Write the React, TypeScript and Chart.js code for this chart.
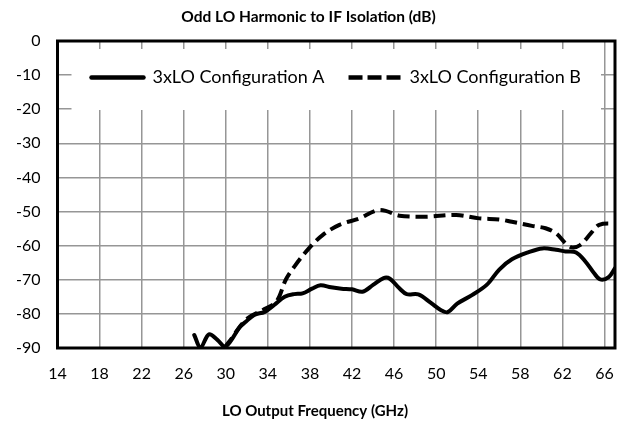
import { useEffect, useRef } from 'react';
import { Chart, registerables } from 'chart.js';

Chart.register(...registerables);

const chartTitle = 'Odd LO Harmonic to IF Isolation (dB)';
const xAxisTitle = 'LO Output Frequency (GHz)';
const labelA = '3xLO Configuration A';
const labelB = '3xLO Configuration B';

const xTickValues = [14, 18, 22, 26, 30, 34, 38, 42, 46, 50, 54, 58, 62, 66];
const yTickValues = [0, -10, -20, -30, -40, -50, -60, -70, -80, -90];

const freqA = [27.0, 27.6, 28.4, 29.2, 29.9, 30.5, 31.3, 31.9, 32.7, 33.7, 34.6, 35.6, 36.5, 37.3, 38.2, 39.0, 40.0, 41.0, 42.0, 43.0, 44.0, 45.0, 45.6, 46.5, 47.2, 48.3, 49.5, 50.5, 51.1, 52.0, 53.4, 54.8, 56.0, 57.2, 58.8, 60.1, 61.4, 62.3, 63.3, 64.2, 65.0, 65.6, 66.4, 67.0];
const isoA = [-86.2, -89.8, -86.0, -87.6, -89.6, -87.8, -84.0, -82.3, -80.3, -79.4, -77.4, -75.0, -74.2, -74.0, -72.6, -71.6, -72.2, -72.6, -72.8, -73.5, -71.5, -69.5, -69.7, -72.5, -74.2, -74.3, -76.8, -79.0, -79.5, -77.0, -74.5, -71.5, -67.0, -64.0, -61.9, -60.8, -61.2, -61.7, -62.0, -64.7, -68.0, -69.9, -69.2, -66.6];

const freqB = [29.9, 30.6, 31.1, 32.1, 33.5, 34.8, 35.7, 36.5, 37.9, 39.2, 40.8, 42.7, 44.3, 45.2, 46.5, 49.0, 51.9, 54.1, 56.0, 57.2, 59.1, 60.4, 61.4, 62.3, 62.9, 63.7, 64.7, 65.5, 67.0];
const isoB = [-89.8, -87.0, -84.7, -81.2, -78.9, -76.4, -70.0, -66.2, -60.8, -56.9, -53.9, -52.0, -49.7, -49.8, -51.2, -51.5, -51.0, -52.0, -52.3, -53.0, -54.2, -54.9, -56.4, -59.3, -60.5, -59.8, -56.4, -53.9, -53.5];

const FONT = 'Lato, "Open Sans", sans-serif';

export default function App() {
  const canvasRef = useRef<HTMLCanvasElement | null>(null);

  useEffect(() => {
    document.body.style.margin = '0';
    const canvas = canvasRef.current;
    if (!canvas) return;

    const frame = {
      id: 'frameAndLegendBg',
      beforeLayout(chart: any) {
        const lg = chart.legend;
        if (lg && !lg.__patched) {
          lg.__patched = true;
          lg.isHorizontal = () => true;
          lg._layers = () => [
            {
              z: 1,
              draw: () => {
                const ca = chart.chartArea;
                const c = chart.ctx;
                c.save();
                c.fillStyle = '#ffffff';
                c.fillRect(ca.left + 14, ca.top + 8, ca.right - ca.left - 28, 61);
                c.restore();
                lg.left = ca.left;
                lg.right = ca.right;
                lg.top = ca.top;
                lg.draw(ca);
              },
            },
          ];
        }
      },
      beforeDraw(chart: any) {
        const sx = chart.scales.x;
        if (sx && !sx.__patched) {
          sx.__patched = true;
          const orig = sx.drawTitle.bind(sx);
          sx.drawTitle = function () {
            const l = sx.left;
            const r = sx.right;
            sx.left = 0;
            sx.right = chart.width;
            orig();
            sx.left = l;
            sx.right = r;
          };
        }
      },
      afterDatasetsDraw(chart: any) {
        const ca = chart.chartArea;
        const c = chart.ctx;
        c.save();
        c.strokeStyle = '#000000';
        c.lineWidth = 3;
        c.strokeRect(ca.left, ca.top, ca.right - ca.left, ca.bottom - ca.top);
        c.restore();
      },
    };

    const chart = new Chart(canvas, {
      type: 'line',
      data: {
        datasets: [
          {
            label: labelA,
            data: freqA.map((x, i) => ({ x, y: isoA[i] })),
            borderColor: '#000000',
            backgroundColor: '#000000',
            borderWidth: 4,
            pointRadius: 0,
            tension: 0.35,
            borderCapStyle: 'round',
            borderJoinStyle: 'round',
          },
          {
            label: labelB,
            data: freqB.map((x, i) => ({ x, y: isoB[i] })),
            borderColor: '#000000',
            backgroundColor: '#000000',
            borderWidth: 4,
            borderDash: [12, 6],
            pointRadius: 0,
            tension: 0.35,
            borderCapStyle: 'butt',
            borderJoinStyle: 'round',
          },
        ],
      },
      options: {
        responsive: false,
        animation: false,
        layout: { padding: { left: 0, right: 13, top: 0, bottom: 0 } },
        plugins: {
          title: {
            display: true,
            text: chartTitle,
            color: '#000000',
            font: { family: FONT, size: 15.5, weight: 'bold' },
            padding: { top: 8, bottom: 14.4 },
          },
          legend: {
            position: 'chartArea',
            align: 'center',
            title: { display: true, text: '', font: { size: 2 }, padding: { top: 1, bottom: 0 } },
            labels: {
              usePointStyle: true,
              pointStyle: 'line',
              pointStyleWidth: 52,
              color: '#000000',
              font: { family: FONT, size: 18 },
              padding: 24,
              generateLabels: (ch: any) =>
                Chart.defaults.plugins.legend.labels.generateLabels(ch).map((item: any, i: number) => ({
                  ...item,
                  pointStyle: 'line',
                  lineWidth: 4.5,
                  strokeStyle: '#000000',
                  lineDash: ch.data.datasets[i].borderDash ? [14, 5] : [],
                  lineCap: ch.data.datasets[i].borderDash ? 'butt' : 'round',
                })),
            },
          },
          tooltip: { enabled: false },
        },
        scales: {
          x: {
            type: 'linear',
            min: 14,
            max: 67,
            afterBuildTicks: (s: any) => {
              s.ticks = xTickValues.map((v) => ({ value: v }));
            },
            afterFit: (s: any) => {
              s.height = 76;
            },
            ticks: {
              color: '#000000',
              font: { family: FONT, size: 16 },
              padding: 16,
              maxRotation: 0,
              autoSkip: false,
            },
            grid: { color: '#969696', lineWidth: 1.5, drawTicks: false, z: -1 },
            border: { display: false },
            title: {
              display: true,
              text: xAxisTitle,
              color: '#000000',
              font: { family: FONT, size: 15, weight: 'bold' },
              padding: { top: 6, bottom: 4 },
            },
          },
          y: {
            type: 'linear',
            min: -90,
            max: 0,
            afterBuildTicks: (s: any) => {
              s.ticks = yTickValues.map((v) => ({ value: v }));
            },
            afterFit: (s: any) => {
              s.width = 57.5;
            },
            ticks: {
              color: '#000000',
              font: { family: FONT, size: 16 },
              padding: 17,
            },
            grid: { color: '#969696', lineWidth: 1.5, drawTicks: false, z: -1 },
            border: { display: false },
          },
        },
      },
      plugins: [frame],
    } as any);

    return () => chart.destroy();
  }, []);

  return (
    <div style={{ width: 630, height: 424 }}>
      <canvas ref={canvasRef} width={630} height={424} />
    </div>
  );
}
